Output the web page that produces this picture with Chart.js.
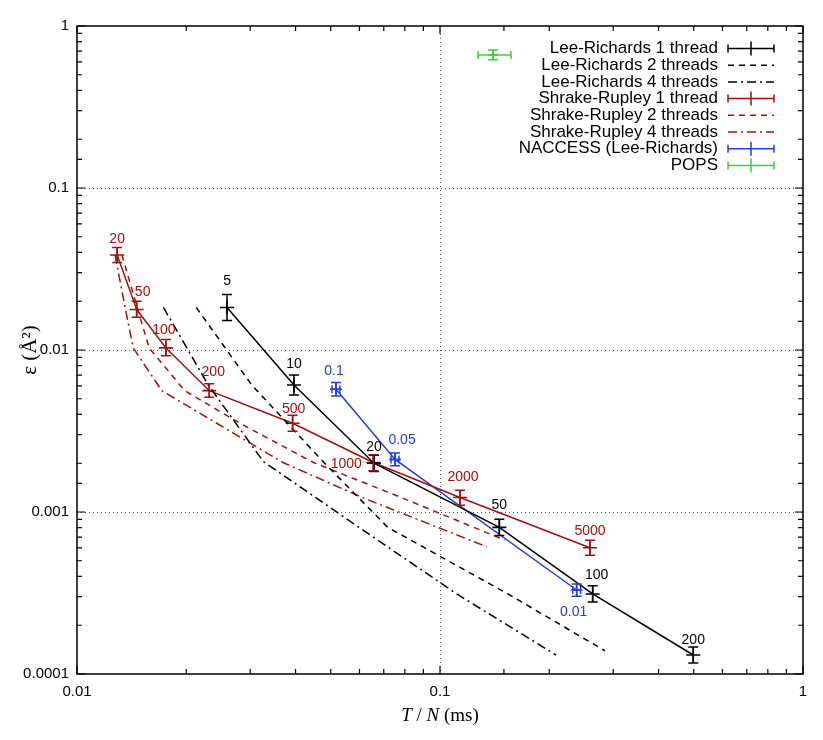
<!DOCTYPE html>
<html>
<head>
<meta charset="utf-8">
<script src="https://cdn.jsdelivr.net/npm/chart.js@4/dist/chart.umd.min.js"></script>
<style>
  body { margin: 0; background: #fff; }
  canvas { display: block; }
</style>
</head>
<body>
<canvas id="epsChart" width="823" height="740"></canvas>
<script>
// Lee-Richards, N slices
const lrN = [5, 10, 20, 50, 100, 200];
const lr1X = [0.0259, 0.0396, 0.0658, 0.1457, 0.2634, 0.4985];
const lr1Y = [0.0183, 0.00608, 0.00200, 0.000804, 0.000312, 0.000131];
const lr1YLow = [0.0152, 0.00527, 0.00178, 0.000717, 0.000278, 0.000117];
const lr1YHigh = [0.0220, 0.00701, 0.00224, 0.000901, 0.00035, 0.000147];
const lr2X = [0.0213, 0.0303, 0.0481, 0.0718, 0.1539, 0.2848];
const lr2Y = [0.0183, 0.00608, 0.00200, 0.000804, 0.000312, 0.000139];
const lr4X = [0.0173, 0.0230, 0.0326, 0.0598, 0.1112, 0.2087];
const lr4Y = [0.0183, 0.00608, 0.00205, 0.000804, 0.000312, 0.000131];

// Shrake-Rupley, N test points
const srN = [20, 50, 100, 200, 500, 1000, 2000, 5000];
const sr1X = [0.0129, 0.0146, 0.01758, 0.02314, 0.03926, 0.0655, 0.1135, 0.2589];
const sr1Y = [0.0386, 0.0178, 0.0103, 0.00561, 0.00353, 0.00202, 0.00123, 0.000602];
const sr1YLow = [0.0347, 0.0159, 0.0092, 0.0051, 0.00315, 0.0018, 0.0011, 0.00054];
const sr1YHigh = [0.0430, 0.0200, 0.0116, 0.0062, 0.00396, 0.00226, 0.00136, 0.00067];
const sr2X = [0.0133, 0.0147, 0.0158, 0.0198, 0.0281, 0.0448, 0.0781, 0.151];
const sr2Y = [0.0386, 0.0178, 0.0103, 0.00561, 0.00353, 0.00202, 0.00123, 0.00067];
const sr4X = [0.01273, 0.0136, 0.01428, 0.01712, 0.02425, 0.03694, 0.061, 0.1345];
const sr4Y = [0.0386, 0.0178, 0.0103, 0.00561, 0.00353, 0.00202, 0.00123, 0.00061];

// NACCESS, slice width
const naccN = ['0.1', '0.05', '0.01'];
const naccX = [0.0517, 0.0752, 0.2379];
const naccY = [0.00572, 0.00211, 0.00033];
const naccXLow = [0.0504, 0.0733, 0.232];
const naccXHigh = [0.0530, 0.0771, 0.244];
const naccYLow = [0.0052, 0.00193, 0.000302];
const naccYHigh = [0.0063, 0.00231, 0.00036];

// POPS
const popsX = [0.140];
const popsY = [0.662];
const popsXLow = [0.1273];
const popsXHigh = [0.1569];
const popsYLow = [0.62];
const popsYHigh = [0.71];

const xTicks = [0.01, 0.1, 1];
const yTicks = [0.0001, 0.001, 0.01, 0.1, 1];

const BLACK = '#000000';
const RED = '#a50f0f';
const BLUE = '#1f3fdb';
const GREEN = '#3ecf3e';
const SANS = '"Liberation Sans", Arial, sans-serif';
const SERIF = '"Liberation Serif", "Times New Roman", serif';

const pts = (xs, ys) => xs.map((x, i) => ({ x: x, y: ys[i] }));

function series(label, xs, ys, color, dash, opts) {
  return Object.assign({
    label: label,
    data: pts(xs, ys),
    showLine: true,
    borderColor: color,
    backgroundColor: color,
    borderWidth: 1.5,
    borderDash: dash,
    pointRadius: 0,
    pointStyle: 'cross',
    pointBorderWidth: 1.6
  }, opts || {});
}

const DASH = [6, 5];
const DASHDOT = [9, 4, 2, 4];

const datasets = [
  series('Lee-Richards 1 thread', lr1X, lr1Y, BLACK, [], { pointRadius: 7, yLow: lr1YLow, yHigh: lr1YHigh, tags: lrN.map(String) }),
  series('Lee-Richards 2 threads', lr2X, lr2Y, BLACK, DASH),
  series('Lee-Richards 4 threads', lr4X, lr4Y, BLACK, DASHDOT),
  series('Shrake-Rupley 1 thread', sr1X, sr1Y, RED, [], { pointRadius: 7, yLow: sr1YLow, yHigh: sr1YHigh, tags: srN.map(String) }),
  series('Shrake-Rupley 2 threads', sr2X, sr2Y, RED, DASH),
  series('Shrake-Rupley 4 threads', sr4X, sr4Y, RED, DASHDOT),
  series('NACCESS (Lee-Richards)', naccX, naccY, BLUE, [], { pointRadius: 6, yLow: naccYLow, yHigh: naccYHigh, xLow: naccXLow, xHigh: naccXHigh, tags: naccN }),
  series('POPS', popsX, popsY, GREEN, [], { pointRadius: 5, yLow: popsYLow, yHigh: popsYHigh, xLow: popsXLow, xHigh: popsXHigh })
];

// label placement relative to the point, in pixels
const tagOffsets = {
  'Lee-Richards 1 thread': [[0, -26], [0, -21], [0, -16], [0, -22], [4, -19], [0, -15]],
  'Shrake-Rupley 1 thread': [[0, -16], [6, -17], [-2, -18], [4, -19], [1, -14], [-27, 2], [3, -20], [0, -17]],
  'NACCESS (Lee-Richards)': [[-2, -18], [7, -19], [-3, 22]]
};

const isDecade = v => Math.abs(Math.log10(v) - Math.round(Math.log10(v))) < 1e-6;

const framePlugin = {
  id: 'frame',
  beforeDatasetsDraw(chart) {
    const { ctx, chartArea: a, scales: { x, y } } = chart;
    ctx.save();
    ctx.strokeStyle = '#555';
    ctx.lineWidth = 1;
    ctx.setLineDash([1, 3]);
    xTicks.forEach(v => {
      const px = Math.round(x.getPixelForValue(v)) + 0.5;
      if (px > a.left + 2 && px < a.right - 2) {
        ctx.beginPath(); ctx.moveTo(px, a.top); ctx.lineTo(px, a.bottom); ctx.stroke();
      }
    });
    yTicks.forEach(v => {
      const py = Math.round(y.getPixelForValue(v)) + 0.5;
      if (py > a.top + 2 && py < a.bottom - 2) {
        ctx.beginPath(); ctx.moveTo(a.left, py); ctx.lineTo(a.right, py); ctx.stroke();
      }
    });
    ctx.restore();
  },
  afterDatasetsDraw(chart) {
    const { ctx, chartArea: a, scales: { x, y } } = chart;
    ctx.save();
    // error bars
    chart.data.datasets.forEach(ds => {
      ctx.strokeStyle = ds.borderColor;
      ctx.lineWidth = 1.5;
      ctx.setLineDash([]);
      ds.data.forEach((p, i) => {
        const px = x.getPixelForValue(p.x);
        const py = y.getPixelForValue(p.y);
        if (ds.yLow) {
          const y1 = y.getPixelForValue(ds.yLow[i]);
          const y2 = y.getPixelForValue(ds.yHigh[i]);
          ctx.beginPath();
          ctx.moveTo(px, y1); ctx.lineTo(px, y2);
          ctx.moveTo(px - 5, y1); ctx.lineTo(px + 5, y1);
          ctx.moveTo(px - 5, y2); ctx.lineTo(px + 5, y2);
          ctx.stroke();
        }
        if (ds.xLow) {
          const x1 = x.getPixelForValue(ds.xLow[i]);
          const x2 = x.getPixelForValue(ds.xHigh[i]);
          ctx.beginPath();
          ctx.moveTo(x1, py); ctx.lineTo(x2, py);
          ctx.moveTo(x1, py - 4); ctx.lineTo(x1, py + 4);
          ctx.moveTo(x2, py - 4); ctx.lineTo(x2, py + 4);
          ctx.stroke();
        }
      });
      // point tags
      if (ds.tags) {
        const offs = tagOffsets[ds.label] || [];
        ctx.fillStyle = ds.borderColor;
        ctx.font = '14px ' + SANS;
        ctx.textAlign = 'center';
        ctx.textBaseline = 'middle';
        ds.data.forEach((p, i) => {
          const o = offs[i] || [0, -18];
          ctx.fillText(ds.tags[i], x.getPixelForValue(p.x) + o[0], y.getPixelForValue(p.y) + o[1]);
        });
      }
    });

    // frame
    ctx.strokeStyle = '#000';
    ctx.lineWidth = 1.5;
    ctx.strokeRect(a.left, a.top, a.right - a.left, a.bottom - a.top);

    // inward ticks on all four sides
    ctx.lineWidth = 1.2;
    x.ticks.forEach(t => {
      const px = x.getPixelForValue(t.value);
      const len = isDecade(t.value) ? 8 : 5;
      ctx.beginPath();
      ctx.moveTo(px, a.bottom); ctx.lineTo(px, a.bottom - len);
      ctx.moveTo(px, a.top); ctx.lineTo(px, a.top + len);
      ctx.stroke();
    });
    y.ticks.forEach(t => {
      const py = y.getPixelForValue(t.value);
      const len = isDecade(t.value) ? 8 : 5;
      ctx.beginPath();
      ctx.moveTo(a.left, py); ctx.lineTo(a.left + len, py);
      ctx.moveTo(a.right, py); ctx.lineTo(a.right - len, py);
      ctx.stroke();
    });
    ctx.restore();
  },
  afterDraw(chart) {
    const { ctx, chartArea: a } = chart;
    ctx.save();
    // legend, text right-aligned with sample on the right
    const textRight = 718, s1 = 728, s2 = 774;
    chart.data.datasets.forEach((ds, i) => {
      const ly = 48.5 + i * 16.7;
      ctx.fillStyle = '#000';
      ctx.font = '17px ' + SANS;
      ctx.textAlign = 'right';
      ctx.textBaseline = 'middle';
      ctx.fillText(ds.label, textRight, ly);
      ctx.strokeStyle = ds.borderColor;
      ctx.lineWidth = 1.5;
      ctx.setLineDash(ds.borderDash);
      ctx.beginPath(); ctx.moveTo(s1, ly); ctx.lineTo(s2, ly); ctx.stroke();
      ctx.setLineDash([]);
      if (ds.yLow) {
        const mid = (s1 + s2) / 2;
        ctx.beginPath();
        ctx.moveTo(s1, ly - 4); ctx.lineTo(s1, ly + 4);
        ctx.moveTo(s2, ly - 4); ctx.lineTo(s2, ly + 4);
        ctx.moveTo(mid, ly - 7); ctx.lineTo(mid, ly + 7);
        ctx.stroke();
      }
    });

    // axis titles
    ctx.fillStyle = '#000';
    ctx.textBaseline = 'middle';
    ctx.save();
    ctx.translate(30, (a.top + a.bottom) / 2);
    ctx.rotate(-Math.PI / 2);
    ctx.textAlign = 'center';
    ctx.font = '21px ' + SERIF;
    ctx.fillText('ε (Å²)', 0, 0);
    ctx.restore();

    const parts = [['T', 'italic '], [' / ', ''], ['N', 'italic '], [' (ms)', '']];
    let total = 0;
    parts.forEach(p => { ctx.font = p[1] + '19px ' + SERIF; total += ctx.measureText(p[0]).width; });
    let cx = (a.left + a.right) / 2 - total / 2;
    ctx.textAlign = 'left';
    parts.forEach(p => {
      ctx.font = p[1] + '19px ' + SERIF;
      ctx.fillText(p[0], cx, 716);
      cx += ctx.measureText(p[0]).width;
    });
    ctx.restore();
  }
};

const tickLabel = v => isDecade(v) ? String(Number(Number(v).toPrecision(1))) : '';

new Chart(document.getElementById('epsChart').getContext('2d'), {
  type: 'scatter',
  data: { datasets: datasets },
  options: {
    responsive: false,
    animation: false,
    layout: { padding: { top: 26, right: 20, left: 0, bottom: 0 } },
    scales: {
      x: {
        type: 'logarithmic', min: 0.01, max: 1,
        grid: { display: false, drawTicks: false }, border: { display: false },
        ticks: { callback: tickLabel, autoSkip: false, maxRotation: 0, padding: 9, color: '#000', font: { family: SANS, size: 15 } },
        afterFit: s => { s.height = 66; }
      },
      y: {
        type: 'logarithmic', min: 0.0001, max: 1,
        grid: { display: false, drawTicks: false }, border: { display: false },
        ticks: { callback: tickLabel, autoSkip: false, padding: 8, color: '#000', font: { family: SANS, size: 15 } },
        afterFit: s => { s.width = 77; }
      }
    },
    plugins: { legend: { display: false }, tooltip: { enabled: false } }
  },
  plugins: [framePlugin]
});
</script>
</body>
</html>
